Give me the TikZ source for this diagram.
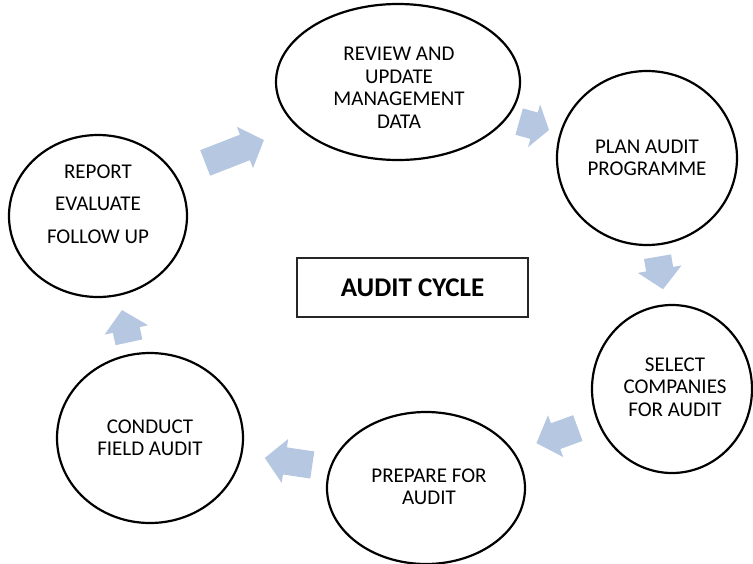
\documentclass[tikz,border=0pt]{standalone}
\usepackage{fontspec}
\setmainfont{Carlito}
\usepackage{tikz}
\usetikzlibrary{shapes,arrows,positioning}
\definecolor{flowblue}{RGB}{182,199,225}

\begin{document}
\begin{tikzpicture}[x=1pt, y=-1pt,
    stage/.style={ellipse, draw, line width=2.2pt, inner sep=0pt},
    stagetext/.style={align=center, font=\fontsize{21}{22.5}\selectfont, inner sep=0pt},
    cyclebox/.style={rectangle, draw=black!85, line width=1.2pt, minimum width=231pt, minimum height=59pt, font=\bfseries\fontsize{27}{30}\selectfont},
    flow/.style={single arrow, fill=flowblue, inner xsep=0pt, inner ysep=13.5pt, single arrow head extend=8.5pt, single arrow tip angle=95, anchor=tail}]
    \useasboundingbox (0,0) rectangle (753,563);

    % Stages of the cycle
    \node [stage, minimum width=244pt, minimum height=156pt] (review) at (398,82) {};
    \node [stage, minimum width=180pt, minimum height=174pt] (plan) at (647,158) {};
    \node [stage, minimum width=160pt, minimum height=168pt] (select) at (672,389) {};
    \node [stage, minimum width=198pt, minimum height=152pt] (prepare) at (426,488) {};
    \node [stage, minimum width=186pt, minimum height=170pt] (conduct) at (150,438) {};
    \node [stage, minimum width=178pt, minimum height=162pt] (report) at (98,216) {};

    % Text of the stages
    \node [stagetext] (reviewtext) at (399,88) {REVIEW AND\\UPDATE\\MANAGEMENT\\DATA};
    \node [stagetext] (plantext) at (647,158) {PLAN AUDIT\\PROGRAMME};
    \node [stagetext] (selecttext) at (675,387) {SELECT\\COMPANIES\\FOR AUDIT};
    \node [stagetext] (preparetext) at (429,487) {PREPARE FOR\\AUDIT};
    \node [stagetext] (conducttext) at (150,438) {CONDUCT\\FIELD AUDIT};
    \node [stagetext, font=\fontsize{21}{32.5}\selectfont] (reporttext) at (98,204) {REPORT\\EVALUATE\\FOLLOW UP};

    % Centre box
    \node [cyclebox] (cycle) at (412.5,287.5) {AUDIT CYCLE};

    % Block arrows round the cycle
    \node [flow, rotate=21.3, minimum height=63pt] (toreview) at (205,163) {};
    \node [flow, rotate=-15.7, minimum height=31pt, single arrow tip angle=110] (toplan) at (519,121.5) {};
    \node [flow, rotate=-80.4, minimum height=33pt] (toselect) at (657.5,256.5) {};
    \node [flow, rotate=200, minimum height=44pt] (toprepare) at (578,428) {};
    \node [flow, rotate=171.6, minimum height=48pt] (toconduct) at (312.5,465) {};
    \node [flow, rotate=102.2, minimum height=33pt] (toreport) at (129,342.5) {};
\end{tikzpicture}
\end{document}
